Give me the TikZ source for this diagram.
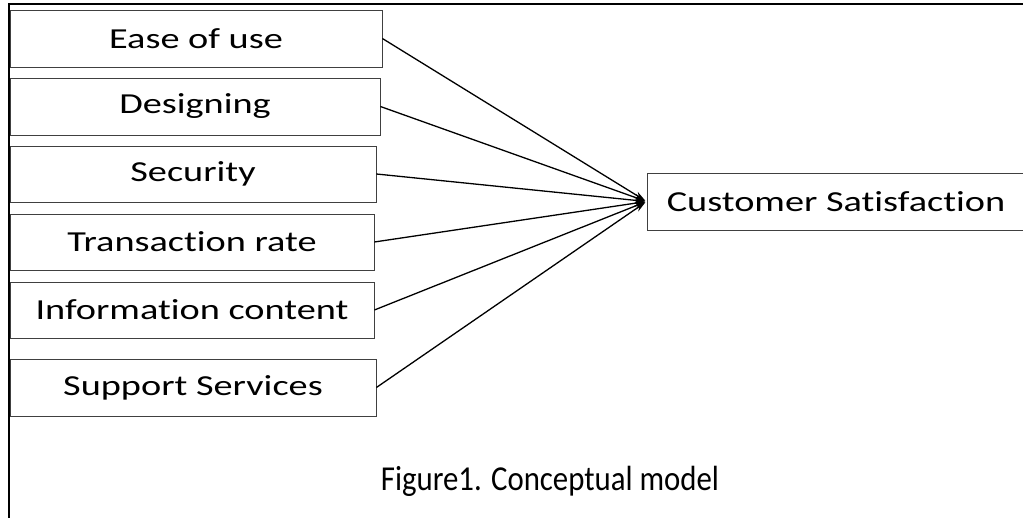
\documentclass[tikz,border=0pt]{standalone}
\usepackage{fontspec}
\usepackage{graphicx}
\setmainfont{Carlito}[Ligatures=NoCommon]
\usetikzlibrary{arrows.meta}
\newcommand{\widetxt}[1]{\scalebox{1.32}[1]{#1}}
\tikzset{
  factor/.style={draw=black!75, line width=0.8pt, inner sep=0pt,
    font=\fontsize{29}{32}\selectfont},
  link/.style={-{Stealth[length=11pt,width=7pt]}, line width=1.3pt, shorten >=1.5pt}
}
\begin{document}
\begin{tikzpicture}[x=1pt,y=-1pt]
  \useasboundingbox (0,0) rectangle (1023,518);
  \draw[line width=2pt] (9,518) -- (9,4.5) -- (1023,4.5);

  \node[factor, minimum width=372pt, minimum height=57pt] (f1) at (196,38.5) {\widetxt{Ease of use}};
  \node[factor, minimum width=370pt, minimum height=57pt] (f2) at (195,106.5) {\widetxt{Designing}};
  \node[factor, minimum width=366pt, minimum height=56pt] (f3) at (193,174) {\widetxt{Security}};
  \node[factor, minimum width=364pt, minimum height=56pt] (f4) at (192,242) {\widetxt{Transaction rate}};
  \node[factor, minimum width=364pt, minimum height=56pt] (f5) at (192,310) {\widetxt{Information content}};
  \node[factor, minimum width=366pt, minimum height=57pt] (f6) at (193,387.5) {\widetxt{Support Services}};

  \node[factor, minimum width=378pt, minimum height=57pt] (cs) at (836,201.5) {\widetxt{Customer Satisfaction}};

  \draw[link] (f1.east) -- (cs.west);
  \draw[link] (f2.east) -- (cs.west);
  \draw[link] (f3.east) -- (cs.west);
  \draw[link] (f4.east) -- (cs.west);
  \draw[link] (f5.east) -- (cs.west);
  \draw[link] (f6.east) -- (cs.west);

  \node[font=\fontsize{35}{38}\selectfont, anchor=base, inner sep=0pt] (cap) at (550,490) {\scalebox{0.88}[1]{Figure1. Conceptual model}};
\end{tikzpicture}
\end{document}
